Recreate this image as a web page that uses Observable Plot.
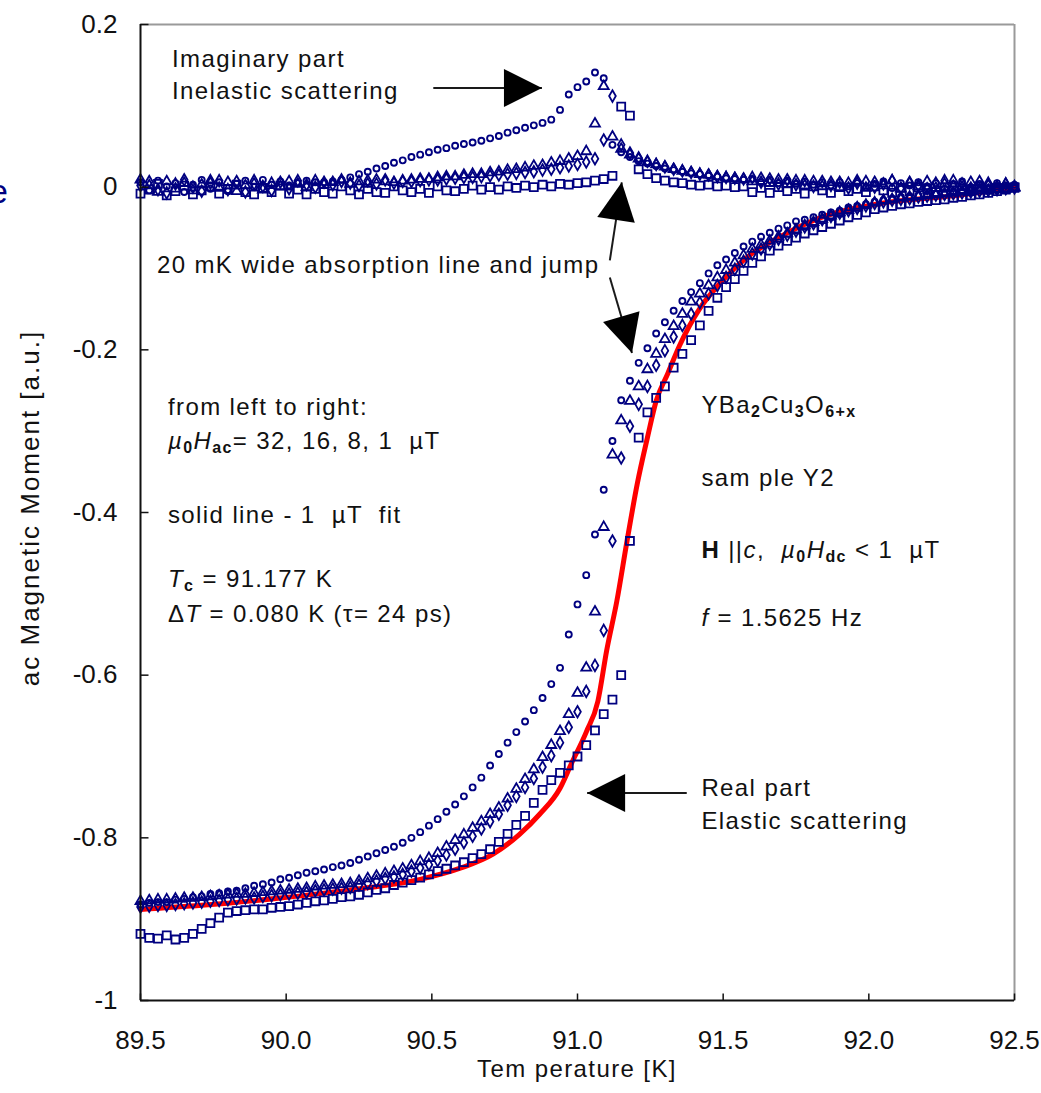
<!DOCTYPE html>
<html><head><meta charset="utf-8">
<script src="https://cdn.jsdelivr.net/npm/d3@7"></script>
<script src="https://cdn.jsdelivr.net/npm/@observablehq/plot@0.6"></script>
<style>
html,body{margin:0;padding:0;background:#fff;}
#chart{position:relative;width:1041px;height:1093px;overflow:hidden;background:#fff;}
</style></head><body><div id="chart"></div>
<script>
// ---------------- data ----------------
const temps = [
89.50,89.53,89.56,89.59,89.62,89.65,89.68,89.71,89.74,89.77,
89.80,89.83,89.86,89.89,89.92,89.95,89.98,90.01,90.04,90.07,
90.10,90.13,90.16,90.19,90.22,90.25,90.28,90.31,90.34,90.37,
90.40,90.43,90.46,90.49,90.52,90.55,90.58,90.61,90.64,90.67,
90.70,90.73,90.76,90.79,90.82,90.85,90.88,90.91,90.94,90.97,
91.00,91.03,91.06,91.09,91.12,91.15,91.18,91.21,91.24,91.27,
91.30,91.33,91.36,91.39,91.42,91.45,91.48,91.51,91.54,91.57,
91.60,91.63,91.66,91.69,91.72,91.75,91.78,91.81,91.84,91.87,
91.90,91.93,91.96,91.99,92.02,92.05,92.08,92.11,92.14,92.17,
92.20,92.23,92.26,92.29,92.32,92.35,92.38,92.41,92.44,92.47,
92.50];

// 32 µT (real, imaginary)
const re32 = [
-0.882,-0.880,-0.879,-0.879,-0.876,-0.875,-0.873,-0.872,-0.869,-0.868,
-0.866,-0.865,-0.862,-0.859,-0.857,-0.855,-0.851,-0.849,-0.846,-0.843,
-0.841,-0.839,-0.836,-0.834,-0.831,-0.827,-0.823,-0.819,-0.815,-0.811,
-0.806,-0.800,-0.793,-0.785,-0.777,-0.768,-0.759,-0.749,-0.738,-0.726,
-0.711,-0.697,-0.683,-0.670,-0.657,-0.643,-0.628,-0.611,-0.591,-0.550,
-0.513,-0.477,-0.427,-0.372,-0.312,-0.262,-0.238,-0.216,-0.198,-0.180,
-0.166,-0.152,-0.140,-0.129,-0.118,-0.106,-0.096,-0.089,-0.081,-0.073,
-0.067,-0.061,-0.056,-0.051,-0.047,-0.042,-0.040,-0.037,-0.034,-0.031,
-0.029,-0.025,-0.023,-0.021,-0.018,-0.016,-0.014,-0.012,-0.011,-0.010,
-0.009,-0.008,-0.007,-0.006,-0.005,-0.004,-0.004,-0.003,-0.002,-0.002,
-0.001];
const im32 = [
0.006,-0.004,0.008,0.001,0.005,-0.006,0.003,0.009,-0.002,0.006,
-0.005,0.004,0.008,0.000,0.009,0.003,0.007,0.002,0.005,0.008,
0.006,0.006,0.007,0.009,0.012,0.016,0.019,0.023,0.026,0.030,
0.033,0.037,0.040,0.043,0.046,0.048,0.051,0.053,0.055,0.057,
0.060,0.063,0.067,0.070,0.073,0.076,0.079,0.083,0.095,0.114,
0.123,0.130,0.141,0.134,0.052,0.043,0.037,0.032,0.029,0.026,
0.023,0.021,0.019,0.017,0.016,0.014,0.013,0.011,0.010,0.009,
0.010,0.006,0.009,0.005,0.008,0.004,0.007,0.003,0.006,0.002,
0.006,0.001,0.005,0.000,0.004,0.007,-0.001,0.005,0.002,0.006,
0.001,0.005,-0.002,0.004,0.007,0.000,0.004,-0.001,0.005,0.002,
0.003];

// 16 µT
const re16 = [
-0.878,-0.877,-0.876,-0.876,-0.875,-0.874,-0.874,-0.873,-0.872,-0.871,
-0.870,-0.869,-0.869,-0.868,-0.867,-0.866,-0.865,-0.864,-0.863,-0.862,
-0.860,-0.859,-0.858,-0.857,-0.856,-0.853,-0.850,-0.847,-0.844,-0.841,
-0.838,-0.834,-0.829,-0.825,-0.819,-0.811,-0.803,-0.796,-0.788,-0.780,
-0.771,-0.763,-0.752,-0.740,-0.728,-0.716,-0.701,-0.686,-0.669,-0.648,
-0.622,-0.591,-0.522,-0.418,-0.329,-0.287,-0.263,-0.245,-0.224,-0.205,
-0.187,-0.171,-0.156,-0.141,-0.131,-0.121,-0.111,-0.102,-0.093,-0.084,
-0.076,-0.071,-0.066,-0.061,-0.057,-0.052,-0.047,-0.043,-0.039,-0.035,
-0.031,-0.028,-0.025,-0.022,-0.019,-0.016,-0.015,-0.013,-0.012,-0.011,
-0.010,-0.009,-0.008,-0.007,-0.006,-0.005,-0.004,-0.004,-0.003,-0.002,
-0.001];
const im16 = [
0.009,0.002,-0.006,0.007,-0.002,0.005,-0.004,0.003,0.008,-0.001,
0.006,-0.005,0.002,0.008,-0.003,0.005,0.001,0.007,0.004,0.000,
0.008,0.003,0.006,0.009,0.004,0.007,0.004,0.009,0.007,0.006,
0.008,0.009,0.010,0.010,0.012,0.013,0.013,0.015,0.016,0.016,
0.018,0.019,0.021,0.022,0.024,0.026,0.027,0.030,0.032,0.035,
0.038,0.044,0.078,0.124,0.062,0.047,0.040,0.035,0.031,0.028,
0.025,0.022,0.020,0.018,0.016,0.015,0.013,0.012,0.011,0.010,
0.007,0.011,0.005,0.009,0.004,0.008,0.002,0.007,0.001,0.006,
0.000,0.005,0.008,-0.001,0.006,0.002,0.008,-0.002,0.005,0.001,
0.007,-0.001,0.004,0.008,0.000,0.006,-0.002,0.005,0.001,0.004,
0.000];

// 8 µT
const re8 = [
-0.885,-0.884,-0.883,-0.883,-0.882,-0.881,-0.880,-0.879,-0.878,-0.877,
-0.876,-0.875,-0.874,-0.874,-0.872,-0.871,-0.870,-0.869,-0.868,-0.867,
-0.865,-0.864,-0.863,-0.862,-0.861,-0.858,-0.856,-0.853,-0.850,-0.848,
-0.845,-0.841,-0.837,-0.833,-0.828,-0.821,-0.814,-0.806,-0.798,-0.789,
-0.780,-0.771,-0.760,-0.749,-0.738,-0.727,-0.713,-0.699,-0.683,-0.664,
-0.645,-0.620,-0.588,-0.545,-0.435,-0.333,-0.294,-0.267,-0.245,-0.219,
-0.201,-0.184,-0.170,-0.156,-0.142,-0.131,-0.121,-0.111,-0.101,-0.091,
-0.082,-0.076,-0.070,-0.064,-0.059,-0.054,-0.049,-0.045,-0.040,-0.036,
-0.032,-0.029,-0.026,-0.023,-0.020,-0.018,-0.016,-0.015,-0.014,-0.012,
-0.011,-0.010,-0.009,-0.008,-0.007,-0.006,-0.005,-0.004,-0.003,-0.002,
-0.001];
const im8 = [
0.002,0.007,-0.003,-0.007,0.004,0.009,0.000,-0.005,0.005,0.008,
-0.003,0.007,-0.006,0.004,0.001,-0.004,0.006,-0.002,0.008,0.003,
0.000,0.006,0.003,0.007,0.005,0.002,0.008,0.004,0.009,0.005,
0.007,0.007,0.008,0.009,0.009,0.010,0.011,0.012,0.012,0.013,
0.014,0.015,0.016,0.017,0.018,0.019,0.021,0.022,0.024,0.026,
0.028,0.031,0.035,0.058,0.112,0.052,0.042,0.036,0.032,0.028,
0.025,0.022,0.020,0.018,0.016,0.015,0.013,0.012,0.011,0.010,
0.012,0.006,0.010,0.004,0.009,0.003,0.008,0.001,0.007,0.002,
0.006,-0.001,0.005,0.007,0.000,0.004,0.008,-0.001,0.006,0.002,
-0.002,0.005,0.008,0.001,0.004,-0.001,0.007,0.002,-0.002,0.004,
0.001];

// 1 µT
const re1 = [
-0.918,-0.923,-0.924,-0.920,-0.925,-0.923,-0.918,-0.912,-0.905,-0.898,
-0.892,-0.890,-0.889,-0.888,-0.888,-0.886,-0.885,-0.884,-0.882,-0.880,
-0.878,-0.877,-0.875,-0.873,-0.872,-0.870,-0.867,-0.864,-0.862,-0.858,
-0.855,-0.852,-0.849,-0.845,-0.841,-0.838,-0.834,-0.830,-0.825,-0.820,
-0.814,-0.805,-0.795,-0.784,-0.773,-0.757,-0.741,-0.729,-0.720,-0.711,
-0.700,-0.686,-0.668,-0.648,-0.630,-0.600,-0.435,-0.308,-0.277,-0.259,
-0.245,-0.222,-0.205,-0.188,-0.170,-0.152,-0.136,-0.123,-0.113,-0.103,
-0.093,-0.085,-0.078,-0.072,-0.066,-0.062,-0.057,-0.053,-0.049,-0.045,
-0.041,-0.037,-0.034,-0.031,-0.027,-0.025,-0.023,-0.021,-0.020,-0.018,
-0.017,-0.016,-0.015,-0.013,-0.012,-0.010,-0.009,-0.007,-0.005,-0.003,
-0.001];
const im1 = [
-0.008,-0.003,0.004,-0.010,-0.005,0.002,-0.009,-0.004,0.001,-0.008,
-0.002,0.003,-0.006,-0.009,-0.001,-0.006,0.002,-0.008,-0.003,-0.009,
-0.002,-0.006,-0.008,0.001,-0.004,-0.009,-0.002,-0.006,-0.007,0.001,
-0.004,-0.006,-0.002,-0.007,0.001,-0.004,-0.005,-0.002,0.002,-0.003,
0.000,-0.003,0.001,-0.001,0.002,0.000,0.003,0.001,0.004,0.003,
0.005,0.006,0.008,0.010,0.014,0.099,0.088,0.022,0.016,0.011,
0.008,0.006,0.005,0.003,0.002,0.003,0.001,0.002,0.000,0.001,
-0.006,-0.001,-0.007,0.000,-0.005,-0.002,-0.008,0.001,-0.004,-0.007,
0.000,-0.005,-0.002,-0.006,0.001,-0.004,-0.007,-0.001,-0.005,0.000,
-0.003,-0.006,0.000,-0.004,-0.002,-0.005,0.001,-0.003,-0.001,-0.002,
0.000];

// 1 µT fit (solid line)
const fitT = [89.50,89.71,89.98,90.22,90.46,90.60,90.71,90.80,90.87,90.94,90.98,91.03,91.07,91.10,91.135,91.17,91.205,91.24,91.27,91.31,91.35,91.42,91.49,91.59,91.69,91.83,92.04,92.28,92.50];
const fitM = [-0.888,-0.883,-0.874,-0.864,-0.851,-0.837,-0.820,-0.796,-0.771,-0.739,-0.708,-0.670,-0.632,-0.570,-0.509,-0.435,-0.365,-0.308,-0.263,-0.229,-0.195,-0.149,-0.118,-0.084,-0.062,-0.038,-0.020,-0.011,-0.001];

const xDomain = [89.5, 92.5];
const yDomain = [-1, 0.2];
const xTicks = [89.5, 90.0, 90.5, 91.0, 91.5, 92.0, 92.5];
const yTicks = [-1, -0.8, -0.6, -0.4, -0.2, 0, 0.2];

// ---------------- layout / style ----------------
const W = 1041, H = 1093, ML = 140, MR = 27, MT = 24, MB = 93;
const NAVY = "#000080";
const FONT = "Arial, 'Liberation Sans', sans-serif";

const series = [
  {re: re1,  im: im1,  symbol: "square",   r: 4.5, sw: 1.8},
  {re: re8,  im: im8,  symbol: "diamond",  r: 3.5, sw: 1.8},
  {re: re16, im: im16, symbol: "triangle", r: 3.7, sw: 1.8},
  {re: re32, im: im32, symbol: "circle",   r: 3.0, sw: 1.9}
];
const fitRows = fitT.map((T, i) => ({T, M: fitM[i]}));

// annotation arrows (data space)
const arrows = [
  {x1: 90.505, y1: 0.122, x2: 90.878, y2: 0.122},
  {x1: 91.111, y1: -0.090, x2: 91.152, y2: 0.006},
  {x1: 91.111, y1: -0.111, x2: 91.187, y2: -0.204},
  {x1: 91.375, y1: -0.745, x2: 91.033, y2: -0.745}
];

const xs = Plot.scale({x: {domain: xDomain, range: [ML, W - MR]}});
const ys = Plot.scale({y: {domain: yDomain, range: [H - MB, MT]}});

function headSymbol(a) {
  const L = 38, w = 19, c = Math.cos(a), s = Math.sin(a);
  const rot = (px, py) => [px * c - py * s, px * s + py * c];
  return {draw(ctx) {
    const p1 = rot(-L, -w), p2 = rot(-L, w);
    ctx.moveTo(0, 0); ctx.lineTo(p1[0], p1[1]); ctx.lineTo(p2[0], p2[1]); ctx.closePath();
  }};
}
const tickRight = {draw(ctx) { ctx.moveTo(0, 0); ctx.lineTo(8, 0); }};
const tickUp = {draw(ctx) { ctx.moveTo(0, 0); ctx.lineTo(0, -7); }};

const marks = [
  Plot.ruleX([xDomain[1]], {stroke: "#9a9a9a", strokeWidth: 2}),
  Plot.ruleY([yDomain[1]], {stroke: "#9a9a9a", strokeWidth: 2}),
  Plot.line(fitRows, {x: "T", y: "M", stroke: "#ff0000", strokeWidth: 5, curve: "monotone-x"})
];
for (const s of series) {
  const rows = temps.map((T, i) => ({T, re: s.re[i], im: s.im[i]}));
  marks.push(Plot.dot(rows, {x: "T", y: "re", symbol: s.symbol, r: s.r, stroke: NAVY, strokeWidth: s.sw, fill: "none"}));
  marks.push(Plot.dot(rows, {x: "T", y: "im", symbol: s.symbol, r: s.r, stroke: NAVY, strokeWidth: s.sw, fill: "none"}));
}
marks.push(Plot.link(arrows, {x1: "x1", y1: "y1", x2: "x2", y2: "y2", stroke: "#1a1a1a", strokeWidth: 2}));
for (const a of arrows) {
  const ang = Math.atan2(ys.apply(a.y2) - ys.apply(a.y1), xs.apply(a.x2) - xs.apply(a.x1));
  marks.push(Plot.dot([a], {x: "x2", y: "y2", symbol: headSymbol(ang), fill: "black", stroke: "none"}));
}
marks.push(
  Plot.ruleX([xDomain[0]], {stroke: "#111", strokeWidth: 2}),
  Plot.ruleY([yDomain[0]], {stroke: "#111", strokeWidth: 2}),
  Plot.dot(yTicks, {y: d => d, frameAnchor: "left", symbol: tickRight, stroke: "#111", strokeWidth: 1.5, fill: "none"}),
  Plot.dot(xTicks, {x: d => d, frameAnchor: "bottom", symbol: tickUp, stroke: "#111", strokeWidth: 1.5, fill: "none"})
);

const plot = Plot.plot({
  width: W, height: H,
  marginLeft: ML, marginRight: MR, marginTop: MT, marginBottom: MB,
  style: {fontFamily: FONT, fontSize: "26px", color: "#111", background: "#fff"},
  x: {domain: xDomain, ticks: xTicks, tickSize: 0, tickPadding: 30, tickFormat: d => d.toFixed(1), label: null},
  y: {domain: yDomain, ticks: yTicks, tickSize: 0, tickPadding: 23, tickFormat: d => String(d), label: null},
  marks
});
document.getElementById("chart").appendChild(plot);

// ---------------- text annotations ----------------
const notes = [
  {T: 89.61, M: 0.158, parts: [["Imaginary part", ""]]},
  {T: 89.61, M: 0.119, parts: [["Inelastic scattering", ""]]},
  {T: 89.558, M: -0.096, parts: [["20 mK wide absorption line and jump", ""]]},
  {T: 89.596, M: -0.270, parts: [["from left to right:", ""]]},
  {T: 89.596, M: -0.312, parts: [["µ", "i"], ["0", "sub"], ["H", "i"], ["ac", "sub"], ["= 32, 16, 8, 1  µT", ""]]},
  {T: 89.596, M: -0.403, parts: [["solid line - 1  µT  fit", ""]]},
  {T: 89.596, M: -0.482, parts: [["T", "i"], ["c", "sub"], [" = 91.177 K", ""]]},
  {T: 89.596, M: -0.525, parts: [["Δ", ""], ["T", "i"], [" = 0.080 K (τ= 24 ps)", ""]]},
  {T: 91.427, M: -0.268, parts: [["YBa", ""], ["2", "sub"], ["Cu", ""], ["3", "sub"], ["O", ""], ["6+x", "sub"]]},
  {T: 91.427, M: -0.358, parts: [["sam ple Y2", ""]]},
  {T: 91.427, M: -0.446, parts: [["H", "b"], [" ||", ""], ["c", "i"], [",  ", ""], ["µ", "i"], ["0", "sub"], ["H", "i"], ["dc", "sub"], [" < 1  µT", ""]]},
  {T: 91.427, M: -0.529, parts: [["f", "i"], [" = 1.5625 Hz", ""]]},
  {T: 91.427, M: -0.738, parts: [["Real part", ""]]},
  {T: 91.427, M: -0.779, parts: [["Elastic scattering", ""]]}
];
const px = plot.scale("x"), py = plot.scale("y");
const svg = d3.select(plot);
const g = svg.append("g").attr("font-family", FONT).attr("font-size", 24).attr("fill", "#111")
  .attr("text-anchor", "start").attr("letter-spacing", "1.4px").style("white-space", "pre");
for (const n of notes) {
  const t = g.append("text").attr("x", px.apply(n.T)).attr("y", py.apply(n.M)).attr("dy", "0.36em");
  for (const [s, st] of n.parts) {
    const ts = t.append("tspan").text(s);
    if (st === "i") ts.attr("font-style", "italic");
    if (st === "b") ts.attr("font-weight", "bold");
    if (st === "sub") ts.attr("font-size", 16).attr("font-weight", "bold").attr("baseline-shift", "-4");
  }
}
// axis titles
svg.append("text").attr("x", (ML + W - MR) / 2).attr("y", H - 16)
  .attr("text-anchor", "middle").attr("font-family", FONT).attr("font-size", 24)
  .attr("letter-spacing", "1.4px").attr("fill", "#111").style("white-space", "pre").text("Tem perature [K]");
svg.append("text").attr("transform", `translate(39,${(MT + H - MB) / 2 - 4}) rotate(-90)`)
  .attr("text-anchor", "middle").attr("font-family", FONT).attr("font-size", 26)
  .attr("letter-spacing", "2px").attr("fill", "#111").text("ac Magnetic Moment [a.u.]");
// stray glyph clipped at the left edge of the picture
svg.append("text").attr("x", -11).attr("y", 203).attr("text-anchor", "start").attr("font-family", FONT).attr("font-size", 34)
  .attr("fill", "#00007f").text("e");
</script></body></html>
